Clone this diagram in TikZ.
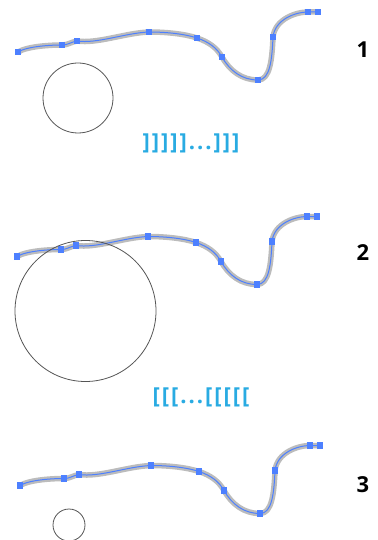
\documentclass[tikz,border=0pt]{standalone}
\usepackage{fontspec}
\setmainfont{Open Sans}
\newfontfamily\bracketfont[LetterSpace=9]{Open Sans}
\definecolor{handleblue}{RGB}{77,128,255}
\definecolor{halogray}{RGB}{188,188,188}
\definecolor{bracketcyan}{RGB}{41,171,226}
\definecolor{ringgray}{RGB}{85,85,85}

% one wavy stroke with its anchor handles, shifted by #1
\newcommand{\wavepath}{(18,52) .. controls +(10,-6) and +(-10,0) .. (62,45)
  .. controls +(6,0) and +(-6,1) .. (77,41)
  .. controls +(20,3) and +(-24,1) .. (149,32)
  .. controls +(18,0) and +(-12,-4) .. (197,38)
  .. controls +(12,4) and +(-5,-9) .. (222,57)
  .. controls +(8,14) and +(-16,0) .. (258,80)
  .. controls +(12,0) and +(-1,23) .. (273,37)
  .. controls +(2,-18) and +(-12,0) .. (308,12)
  -- (318,12)}
\newcommand{\drawwave}[1]{%
  \begin{scope}[shift={#1}]
    \draw[halo] \wavepath;
    \draw[wire] \wavepath;
    \foreach \px/\py in {18/52, 62/45, 77/41, 149/32, 197/38, 222/57, 258/80, 273/37, 308/12, 318/12}
      \fill[handleblue] (\px-3.2,\py-3.2) rectangle (\px+3.2,\py+3.2);
  \end{scope}}

\begin{document}
\begin{tikzpicture}[x=1pt, y=-1pt,
  halo/.style={halogray, line width=5.5pt, line cap=round, line join=round},
  wire/.style={handleblue, line width=1pt},
  ring/.style={ringgray, line width=0.8pt},
  stepnum/.style={font=\fontsize{22}{22}\selectfont\bfseries, inner sep=0pt},
  brackets/.style={font=\bracketfont\fontsize{22}{22}\selectfont\bfseries, text=bracketcyan, inner sep=0pt}]
\useasboundingbox (0,0) rectangle (377,540);

% Step 1
\drawwave{(0,0)}
\draw[ring] (78,98) circle[radius=35pt];
\node[stepnum] (num1) at (363,50) {1};
\node[brackets] (brk1) at (191,143) {]]]]]...]]]};

% Step 2
\drawwave{(-1,204.5)}
\draw[ring] (85.5,311) circle[radius=70.5pt];
\node[stepnum] (num2) at (363,253) {2};
\node[brackets] (brk2) at (201,397) {[[[...[[[[[};

% Step 3
\drawwave{(2,433.5)}
\draw[ring] (69,525) circle[radius=16pt];
\node[stepnum] (num3) at (363,485) {3};
\end{tikzpicture}
\end{document}
